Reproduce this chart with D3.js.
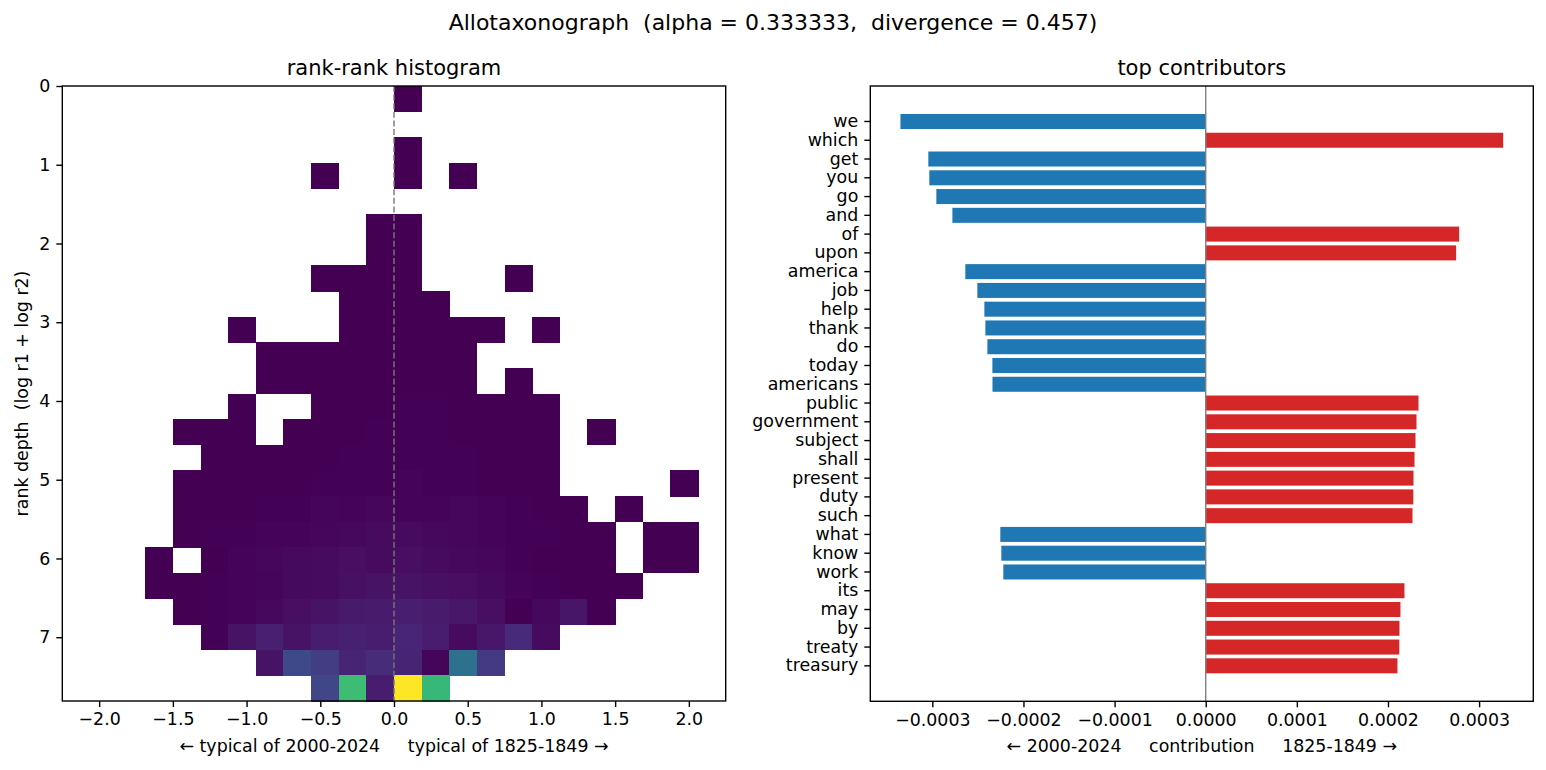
<!DOCTYPE html>
<html>
<head>
<meta charset="utf-8">
<script src="https://cdn.jsdelivr.net/npm/d3@7"></script>
<style>
  body { margin: 0; background: #fff; }
  svg { display: block; font-family: "DejaVu Sans", sans-serif; }
  text { white-space: pre; }
</style>
</head>
<body>
<div id="chart"></div>
<script>
const width = 1546
const height = 770

// --- rank-rank histogram: 24 x 24 bins, rows from rank depth 0 (top) downward
const xLo = -2.25, xHi = 2.25, yHi = 7.81, nBins = 24
const histXTicks = [-2, -1.5, -1, -0.5, 0, 0.5, 1, 1.5, 2]
const histYTicks = [0, 1, 2, 3, 4, 5, 6, 7]
const counts = [
  [0,0,0,0,0,0,0,0,0,0,0,0,1,0,0,0,0,0,0,0,0,0,0,0],
  [0,0,0,0,0,0,0,0,0,0,0,0,0,0,0,0,0,0,0,0,0,0,0,0],
  [0,0,0,0,0,0,0,0,0,0,0,0,1,0,0,0,0,0,0,0,0,0,0,0],
  [0,0,0,0,0,0,0,0,0,1,0,0,1,0,1,0,0,0,0,0,0,0,0,0],
  [0,0,0,0,0,0,0,0,0,0,0,0,0,0,0,0,0,0,0,0,0,0,0,0],
  [0,0,0,0,0,0,0,0,0,0,0,1,1,0,0,0,0,0,0,0,0,0,0,0],
  [0,0,0,0,0,0,0,0,0,0,0,1,2,0,0,0,0,0,0,0,0,0,0,0],
  [0,0,0,0,0,0,0,0,0,1,1,2,2,0,0,0,1,0,0,0,0,0,0,0],
  [0,0,0,0,0,0,0,0,0,0,1,2,3,1,0,0,0,0,0,0,0,0,0,0],
  [0,0,0,0,0,0,1,0,0,0,1,2,3,3,2,1,0,1,0,0,0,0,0,0],
  [0,0,0,0,0,0,0,1,1,2,3,4,3,2,1,0,0,0,0,0,0,0,0,0],
  [0,0,0,0,0,0,0,1,2,2,3,4,4,3,1,0,1,0,0,0,0,0,0,0],
  [0,0,0,0,0,0,1,0,0,2,3,4,5,5,4,3,2,1,0,0,0,0,0,0],
  [0,0,0,0,1,1,2,0,2,3,4,5,6,5,4,3,2,1,0,1,0,0,0,0],
  [0,0,0,0,0,1,2,2,3,4,5,6,7,6,5,3,2,1,0,0,0,0,0,0],
  [0,0,0,0,1,1,2,3,4,5,6,8,9,8,6,4,2,1,0,0,0,0,1,0],
  [0,0,0,0,2,3,4,5,7,15,10,20,12,12,18,10,6,3,2,0,1,0,0,0],
  [0,0,0,0,3,5,8,10,12,20,22,30,30,22,20,12,8,6,3,2,0,1,1,0],
  [0,0,0,1,0,4,10,18,28,30,38,32,40,30,22,18,5,3,2,1,0,1,1,0],
  [0,0,0,2,3,6,10,14,28,32,42,48,50,42,40,28,12,5,3,2,1,0,0,0],
  [0,0,0,0,4,8,12,22,40,50,70,72,85,75,60,40,4,22,58,3,0,0,0,0],
  [0,0,0,0,0,5,50,90,50,80,90,82,105,80,30,60,120,30,0,0,0,0,0,0],
  [0,0,0,0,0,0,0,50,220,180,100,125,100,15,370,170,0,0,0,0,0,0,0,0],
  [0,0,0,0,0,0,0,0,0,210,690,80,1000,670,0,0,0,0,0,0,0,0,0,0]
]

// --- top contributors
const words = ['we', 'which', 'get', 'you', 'go', 'and', 'of', 'upon', 'america', 'job',
  'help', 'thank', 'do', 'today', 'americans', 'public', 'government', 'subject', 'shall', 'present',
  'duty', 'such', 'what', 'know', 'work', 'its', 'may', 'by', 'treaty', 'treasury']
const contrib = [-3.35e-4, 3.264e-4, -3.044e-4, -3.033e-4, -2.956e-4, -2.78e-4, 2.781e-4, 2.748e-4, -2.638e-4, -2.506e-4,
  -2.429e-4, -2.418e-4, -2.396e-4, -2.341e-4, -2.34e-4, 2.335e-4, 2.313e-4, 2.302e-4, 2.291e-4, 2.28e-4,
  2.278e-4, 2.269e-4, -2.254e-4, -2.243e-4, -2.221e-4, 2.181e-4, 2.137e-4, 2.126e-4, 2.124e-4, 2.104e-4]
const barTicks = [-0.0003, -0.0002, -0.0001, 0, 0.0001, 0.0002, 0.0003]

const tickSize = 17.4
const tickLen = 6
const fontFamily = '"DejaVu Sans", sans-serif'

const svg = d3.select("#chart").append("svg")
  .attr("width", width)
  .attr("height", height)

svg.append("text")
  .attr("x", width / 2)
  .attr("y", 30)
  .attr("text-anchor", "middle")
  .attr("font-size", 22)
  .text("Allotaxonograph  (alpha = 0.333333,  divergence = 0.457)")

// d3 axes set their own font, put DejaVu back
function styleAxis(g) {
  g.attr("font-family", fontFamily).attr("font-size", tickSize)
  g.select(".domain").remove()
  g.selectAll(".tick line").attr("stroke", "#000").attr("stroke-width", 1.4)
  g.selectAll(".tick text").attr("fill", "#000")
}

// ============ left panel: histogram
const hL = 62.3, hR = 725.7, plotTop = 86, hB = 701

const hx = d3.scaleLinear().domain([xLo, xHi]).range([hL, hR])
const hy = d3.scaleLinear().domain([0, yHi]).range([plotTop, hB])
const binW = (xHi - xLo) / nBins
const binH = yHi / nBins

const cells = counts.flatMap((row, r) => row.map((c, k) => ({ r, k, c }))).filter(d => d.c > 0)
const color = d3.scaleSequential(d3.interpolateViridis)
  .domain([1, d3.max(cells, d => d.c)])

const hist = svg.append("g")

hist.append("g")
  .attr("shape-rendering", "crispEdges")
  .selectAll("rect")
  .data(cells)
  .join("rect")
  .attr("x", d => hx(xLo + d.k * binW))
  .attr("y", d => hy(d.r * binH))
  .attr("width", d => hx(xLo + (d.k + 1) * binW) - hx(xLo + d.k * binW) + 0.5)
  .attr("height", d => hy((d.r + 1) * binH) - hy(d.r * binH) + 0.5)
  .attr("fill", d => color(d.c))

hist.append("line")
  .attr("x1", hx(0)).attr("x2", hx(0))
  .attr("y1", plotTop).attr("y2", hB)
  .attr("stroke", "#777")
  .attr("stroke-width", 1.4)
  .attr("stroke-dasharray", "6,2.6")

hist.append("g")
  .attr("transform", `translate(0,${hB})`)
  .call(d3.axisBottom(hx).tickValues(histXTicks).tickFormat(d3.format(".1f"))
    .tickSize(tickLen).tickPadding(6))
  .call(styleAxis)

hist.append("g")
  .attr("transform", `translate(${hL},0)`)
  .call(d3.axisLeft(hy).tickValues(histYTicks).tickFormat(d3.format("d"))
    .tickSize(tickLen).tickPadding(6))
  .call(styleAxis)

hist.append("rect")
  .attr("x", hL).attr("y", plotTop)
  .attr("width", hR - hL).attr("height", hB - plotTop)
  .attr("fill", "none")
  .attr("stroke", "#000")
  .attr("stroke-width", 1.4)

hist.append("text")
  .attr("x", (hL + hR) / 2).attr("y", 75)
  .attr("text-anchor", "middle")
  .attr("font-size", 21)
  .text("rank-rank histogram")

hist.append("text")
  .attr("x", (hL + hR) / 2).attr("y", 752)
  .attr("text-anchor", "middle")
  .attr("font-size", tickSize)
  .text("← typical of 2000-2024     typical of 1825-1849 →")

hist.append("text")
  .attr("transform", `translate(28,${(plotTop + hB) / 2}) rotate(-90)`)
  .attr("text-anchor", "middle")
  .attr("font-size", tickSize)
  .text("rank depth  (log r1 + log r2)")

// ============ right panel: contributors
const bL = 870.3, bR = 1533.3, bB = 701.3

const ext = d3.extent(contrib)
const pad = (ext[1] - ext[0]) * 0.05
const bx = d3.scaleLinear().domain([ext[0] - pad, ext[1] + pad]).range([bL, bR])
const by = d3.scaleBand().domain(words).range([plotTop, bB]).paddingInner(0.2).paddingOuter(1.49)

const bars = svg.append("g")

bars.append("g")
  .selectAll("rect")
  .data(words)
  .join("rect")
  .attr("x", (d, i) => bx(Math.min(0, contrib[i])))
  .attr("y", d => by(d))
  .attr("width", (d, i) => Math.abs(bx(contrib[i]) - bx(0)))
  .attr("height", by.bandwidth())
  .attr("fill", (d, i) => contrib[i] < 0 ? "#1f77b4" : "#d62728")

bars.append("line")
  .attr("x1", bx(0)).attr("x2", bx(0))
  .attr("y1", plotTop).attr("y2", bB)
  .attr("stroke", "#808080")
  .attr("stroke-width", 1.4)

bars.append("g")
  .attr("transform", `translate(0,${bB})`)
  .call(d3.axisBottom(bx).tickValues(barTicks).tickFormat(d3.format(".4f"))
    .tickSize(tickLen).tickPadding(6))
  .call(styleAxis)

bars.append("g")
  .attr("transform", `translate(${bL},0)`)
  .call(d3.axisLeft(by).tickSize(tickLen).tickPadding(6))
  .call(styleAxis)

bars.append("rect")
  .attr("x", bL).attr("y", plotTop)
  .attr("width", bR - bL).attr("height", bB - plotTop)
  .attr("fill", "none")
  .attr("stroke", "#000")
  .attr("stroke-width", 1.4)

bars.append("text")
  .attr("x", (bL + bR) / 2).attr("y", 75)
  .attr("text-anchor", "middle")
  .attr("font-size", 21)
  .text("top contributors")

bars.append("text")
  .attr("x", (bL + bR) / 2).attr("y", 752)
  .attr("text-anchor", "middle")
  .attr("font-size", tickSize)
  .text("← 2000-2024     contribution     1825-1849 →")
</script>
</body>
</html>
